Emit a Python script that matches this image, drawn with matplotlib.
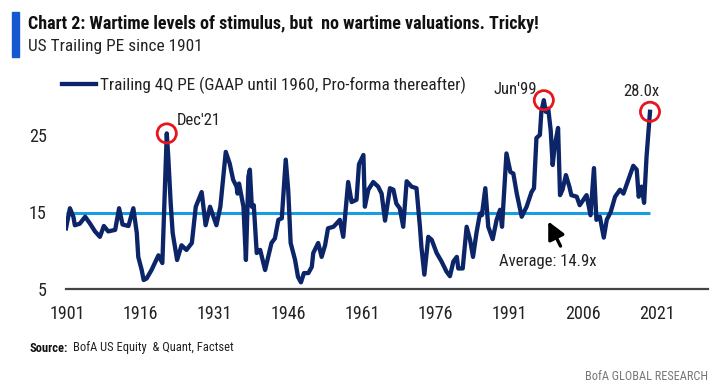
import matplotlib
matplotlib.use("Agg")
import matplotlib.pyplot as plt
from matplotlib import font_manager
from matplotlib.patches import Rectangle

# pick a narrow font if there is one
names = {f.name for f in font_manager.fontManager.ttflist}
narrow = [n for n in ["Liberation Sans Narrow", "Roboto Condensed"] if n in names]
plt.rcParams["font.family"] = narrow + ["Liberation Sans", "DejaVu Sans"]

# data (fractional year, trailing PE)
years = [1900.8, 1901.6, 1902.3, 1902.6, 1903.6, 1904.7, 1905.7, 1906.7, 1907.7, 1908.5,
         1909.4, 1910.8, 1911.6, 1912.3, 1913.5, 1914.5, 1915.2, 1915.5, 1916.2, 1916.6,
         1917.2, 1918.2, 1919.6, 1920.4, 1921.3, 1921.6, 1922.1, 1922.5, 1923.4, 1924.3,
         1925.3, 1926.4, 1927.2, 1928.4, 1929.2, 1930.1, 1931.4, 1932.2, 1933.3, 1934.1,
         1934.8, 1935.5, 1935.7, 1936.0, 1936.5, 1936.9, 1937.4, 1937.9, 1938.2, 1938.6,
         1939.0, 1939.6, 1940.3, 1941.3, 1942.0, 1942.6, 1943.3, 1944.0, 1944.7, 1945.5,
         1946.0, 1946.5, 1947.4, 1948.0, 1948.6, 1949.2, 1950.1, 1950.8, 1951.1, 1952.1,
         1952.8, 1953.5, 1954.1, 1955.2, 1955.8, 1956.5, 1957.2, 1958.2, 1958.9, 1959.9,
         1960.4, 1961.3, 1961.6, 1962.3, 1963.3, 1964.3, 1965.0, 1965.7, 1966.7, 1967.4,
         1968.0, 1968.7, 1969.4, 1970.1, 1971.1, 1972.1, 1972.8, 1973.1, 1973.7, 1974.5,
         1975.2, 1976.2, 1977.2, 1978.2, 1978.9, 1979.6, 1980.3, 1980.6, 1981.5, 1982.3,
         1983.0, 1983.6, 1984.3, 1985.0, 1985.4, 1986.1, 1986.7, 1987.6, 1988.4, 1989.1,
         1989.5, 1990.4, 1991.2, 1991.8, 1992.5, 1993.5, 1994.5, 1995.5, 1996.0, 1996.5,
         1997.2, 1997.5, 1998.0, 1998.4, 1998.9, 1999.4, 1999.8, 2000.2, 2000.9, 2001.3,
         2001.8, 2002.5, 2003.2, 2003.6, 2004.7, 2005.3, 2006.7, 2007.5, 2008.2, 2008.7,
         2009.4, 2010.2, 2010.8, 2011.6, 2012.5, 2013.5, 2014.2, 2015.2, 2016.2, 2016.9,
         2017.3, 2017.9, 2018.4, 2018.9, 2019.6]
pe = [12.9, 15.5, 14.4, 13.3, 13.5, 14.4, 13.5, 12.5, 11.8, 13.2,
      12.5, 12.7, 15.5, 13.4, 13.2, 15.5, 12.3, 9.2, 7.5, 6.2,
      6.4, 7.5, 9.4, 8.4, 25.2, 22.2, 16.1, 12.3, 8.8, 10.7,
      10.1, 11.0, 15.7, 17.6, 13.3, 15.7, 13.3, 15.7, 22.8, 21.3,
      19.2, 18.3, 17.4, 18.7, 17.0, 15.7, 8.8, 19.6, 20.5, 15.7,
      15.9, 9.7, 10.1, 7.5, 9.4, 11.0, 11.6, 14.0, 14.2, 21.8,
      17.9, 11.0, 8.8, 6.6, 5.9, 7.1, 7.1, 7.9, 9.7, 11.0,
      9.2, 10.7, 12.9, 13.1, 13.5, 14.0, 11.8, 18.9, 16.3, 16.6,
      21.2, 22.4, 15.7, 17.9, 18.9, 18.3, 17.4, 13.9, 18.1, 17.9,
      16.1, 15.5, 13.1, 19.0, 18.3, 18.1, 13.1, 10.5, 6.9, 11.8,
      11.4, 9.7, 8.6, 7.3, 6.7, 8.6, 9.2, 7.7, 7.7, 13.1,
      11.4, 9.2, 12.3, 14.8, 14.6, 18.1, 13.1, 11.5, 14.0, 15.3,
      13.1, 22.6, 20.2, 20.0, 17.4, 14.4, 15.7, 17.6, 18.1, 24.6,
      25.0, 28.0, 29.5, 28.0, 28.4, 25.6, 21.1, 23.5, 25.9, 17.2,
      17.9, 19.8, 18.3, 17.2, 17.0, 15.9, 17.2, 14.6, 20.7, 14.0,
      14.4, 11.7, 14.0, 15.0, 17.0, 17.9, 17.4, 19.2, 21.0, 20.5,
      17.0, 18.3, 16.2, 22.2, 28.0]
average = 14.9
x_ticks = [1901, 1916, 1931, 1946, 1961, 1976, 1991, 2006, 2021]
y_ticks = [5, 15, 25]
peaks = [(1921.3, 25.2), (1998.0, 29.5), (2019.6, 28.0)]

navy = "#0c2468"
red = "#e8141e"
light_blue = "#1a9de0"

W, H = 716, 389
fig = plt.figure(figsize=(W / 100, H / 100), dpi=100)


def fx(x):
    return x / W


def fy(y):
    return 1 - y / H


ax = fig.add_axes([fx(66), fy(289.3), fx(708) - fx(66), fy(80.9) - fy(289.3)])

ax.plot(years, pe, color=navy, lw=3.1, solid_joinstyle="round",
        label="Trailing 4Q PE (GAAP until 1960, Pro-forma thereafter)", zorder=3)
ax.hlines(average, years[0], years[-1], color=light_blue, lw=2.2, zorder=2)
ax.scatter([p[0] for p in peaks], [p[1] for p in peaks], s=190, facecolors="none",
           edgecolors=red, linewidths=2.0, zorder=4)

ax.set_xlim(1900.8, 2031.4)
ax.set_ylim(5, 32)
ax.set_xticks(x_ticks)
ax.set_yticks(y_ticks)
ax.tick_params(length=0, labelsize=13, colors="#222222")
ax.tick_params(axis="x", pad=11)
ax.tick_params(axis="y", pad=14)
for s in ["top", "right", "left"]:
    ax.spines[s].set_visible(False)
ax.spines["bottom"].set_color("#444444")
ax.spines["bottom"].set_linewidth(1.6)
ax.patch.set_visible(False)

# annotations
ax.text(1923.4, 26.9, "Dec'21", fontsize=12, ha="left", va="center", color="#222222")
ax.text(1992.1, 30.9, "Jun'99", fontsize=12, ha="center", va="center", color="#222222")
ax.text(2017.9, 30.6, "28.0x", fontsize=12, ha="center", va="center", color="#222222")
ax.text(1998.8, 8.6, "Average: 14.9x", fontsize=12, ha="center", va="center", color="#222222")
ax.annotate("", xy=(1998.9, 13.8), xytext=(2001.4, 10.6),
            arrowprops=dict(arrowstyle="-|>,head_length=0.8,head_width=0.4", color="black",
                            lw=2.4, mutation_scale=13, shrinkA=0, shrinkB=0))

leg = ax.legend(loc="center left", bbox_to_anchor=(fx(62), fy(85)),
                bbox_transform=fig.transFigure, frameon=False, fontsize=12.3,
                handlelength=2.0, handletextpad=0.2, borderpad=0, borderaxespad=0)
for t in leg.get_texts():
    t.set_color("#222222")

# header and footer
fig.patches.append(Rectangle((fx(12), fy(57)), fx(7), fy(12) - fy(57),
                             transform=fig.transFigure, color="#1558d0"))
fig.text(fx(28), fy(24), "Chart 2: Wartime levels of stimulus, but  no wartime valuations. Tricky!",
         fontsize=13, fontweight="bold", ha="left", va="center", color="#111111")
fig.text(fx(28), fy(47), "US Trailing PE since 1901", fontsize=12.4,
         ha="left", va="center", color="#222222")
fig.text(fx(29), fy(348), "Source:", fontsize=9, fontweight="bold",
         ha="left", va="center", color="#111111")
fig.text(fx(73), fy(348), "BofA US Equity  & Quant, Factset", fontsize=9,
         ha="left", va="center", color="#222222")
fig.text(fx(708), fy(376), "BofA GLOBAL RESEARCH", fontsize=8.8,
         ha="right", va="center", color="#777777")

fig.savefig("out.png", dpi=100)
